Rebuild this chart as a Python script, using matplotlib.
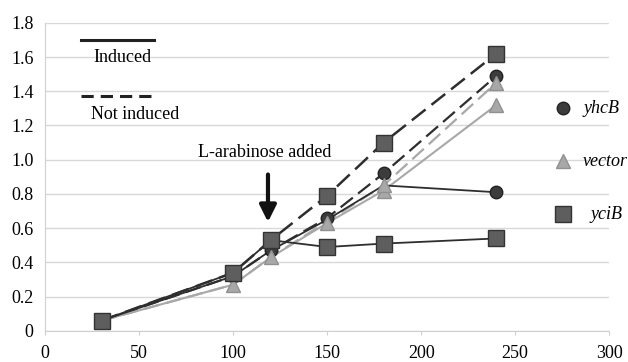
import matplotlib.pyplot as plt

plt.rcParams['font.family'] = ['Liberation Serif', 'DejaVu Serif']

# time (min)
t = [30, 100, 120, 150, 180, 240]

# OD values
yhcB_ind = [0.06, 0.32, 0.47, 0.65, 0.85, 0.81]
yhcB_not = [0.06, 0.32, 0.47, 0.66, 0.92, 1.49]
vector_ind = [0.06, 0.27, 0.43, 0.63, 0.82, 1.32]
vector_not = [0.06, 0.27, 0.43, 0.64, 0.85, 1.45]
yciB_ind = [0.06, 0.34, 0.53, 0.49, 0.51, 0.54]
yciB_not = [0.06, 0.34, 0.53, 0.79, 1.10, 1.62]

yticks = [0, 0.2, 0.4, 0.6, 0.8, 1.0, 1.2, 1.4, 1.6, 1.8]
yticklabels = ['0', '0.2', '0.4', '0.6', '0.8', '1.0', '1.2', '1.4', '1.6', '1.8']
xticks = [0, 50, 100, 150, 200, 250, 300]

dark = '#2e2e2e'
grey = '#a8a8a8'
sq = '#5e5e5e'
fs = 13

fig = plt.figure(figsize=(6.28, 3.62), dpi=100)
ax = fig.add_axes([0.072, 0.086, 0.898, 0.851])

# dashed (not induced)
ax.plot(t, vector_not, color=grey, ls=(0, (7, 3)), lw=1.6, zorder=2)
ax.plot(t, yhcB_not, color=dark, ls=(0, (7, 3)), lw=1.6, zorder=2)
ax.plot(t, yciB_not, color=dark, ls=(0, (7, 3)), lw=1.8, zorder=2)
# solid (induced)
ax.plot(t, vector_ind, color=grey, lw=1.5, zorder=2)
ax.plot(t, yhcB_ind, color=dark, lw=1.3, zorder=2)
ax.plot(t, yciB_ind, color=dark, lw=1.3, zorder=2)

# markers
mk = dict(ls='none', zorder=3)
ax.plot(t, yhcB_not, marker='o', ms=9, mfc='#3c3c3c', mec='#222222', **mk)
ax.plot([240], [yhcB_ind[-1]], marker='o', ms=9, mfc='#3c3c3c', mec='#222222', **mk)
ax.plot(t, vector_ind, marker='^', ms=10, mfc=grey, mec='#909090', **mk)
ax.plot(t[-2:], vector_not[-2:], marker='^', ms=10, mfc=grey, mec='#909090', **mk)
ax.plot(t, yciB_not, marker='s', ms=11, mfc=sq, mec='#333333', **mk)
ax.plot(t[3:], yciB_ind[3:], marker='s', ms=11, mfc=sq, mec='#333333', **mk)

ax.set_xlim(0, 300)
ax.set_ylim(0, 1.8)
ax.set_yticks(yticks)
ax.set_yticklabels(yticklabels)
ax.set_xticks(xticks)
ax.grid(axis='y', color='#d8d8d8', lw=1)
ax.set_axisbelow(True)
for s in ['top', 'right']:
    ax.spines[s].set_visible(False)
for s in ['left', 'bottom']:
    ax.spines[s].set_color('#d0d0d0')
ax.tick_params(axis='y', length=0, labelsize=fs, pad=8.5)
ax.tick_params(axis='x', length=3, color='#d0d0d0', labelsize=fs, pad=7)

# induced / not induced key
ax.plot([19, 58], [1.70, 1.70], color='#222222', lw=2.2)
ax.text(41, 1.60, 'Induced', fontsize=fs, ha='center', va='center')
ax.plot([19, 58], [1.37, 1.37], color='#222222', lw=2.2, ls=(0, (4, 2.3)))
ax.text(48, 1.263, 'Not induced', fontsize=fs, ha='center', va='center')

# series key
ax.plot([275.5], [1.30], marker='o', ms=9, mfc='#3c3c3c', mec='#222222')
ax.text(286.5, 1.30, 'yhcB', fontsize=fs, style='italic', va='center')
ax.plot([275.5], [0.99], marker='^', ms=10, mfc=grey, mec='#909090')
ax.text(286, 0.99, 'vector', fontsize=fs, style='italic', va='center', clip_on=False)
ax.plot([275.5], [0.68], marker='s', ms=11, mfc=sq, mec='#333333')
ax.text(290, 0.68, 'yciB', fontsize=fs, style='italic', va='center')

# arrow
ax.annotate('', xy=(118.5, 0.62), xytext=(118.5, 0.93),
            arrowprops=dict(arrowstyle='-|>,head_width=0.5,head_length=1.0',
                            color='#111111', lw=3))
ax.text(117, 1.04, 'L-arabinose added', fontsize=fs, ha='center', va='center')

fig.savefig('out.png', dpi=100)
